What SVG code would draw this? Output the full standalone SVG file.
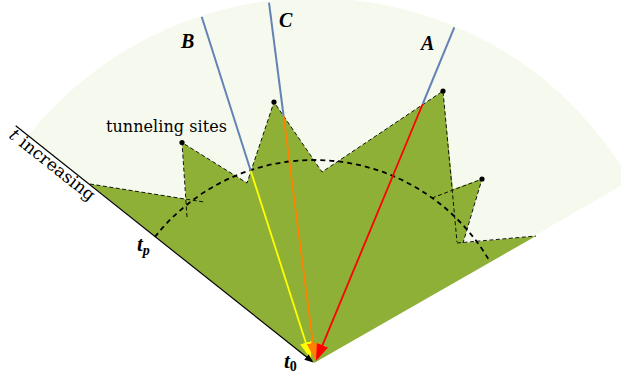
<svg xmlns="http://www.w3.org/2000/svg" width="621" height="375" viewBox="0 0 621 375">
<style>
.lbl{font-family:"Liberation Serif","Times New Roman",serif;fill:#000}
.txt{font-family:"DejaVu Serif","Liberation Serif",serif;fill:#000}
.bi{font-weight:bold;font-style:italic}
.dash{fill:none;stroke:#000;stroke-width:0.9;stroke-dasharray:4 2.5}
.blue{stroke:#6482b4;stroke-width:2;fill:none}
.dot{fill:#000}
</style>
<defs>
<marker id="hY" markerUnits="userSpaceOnUse" viewBox="0 0 17 12" markerWidth="17" markerHeight="12" refX="14" refY="6" orient="auto"><path d="M0,0 L17,6 L0,12 Z" fill="#ffff00"/></marker>
<marker id="hO" markerUnits="userSpaceOnUse" viewBox="0 0 17 12" markerWidth="17" markerHeight="12" refX="14" refY="6" orient="auto"><path d="M0,0 L17,6 L0,12 Z" fill="#ff8000"/></marker>
<marker id="hR" markerUnits="userSpaceOnUse" viewBox="0 0 17 12" markerWidth="17" markerHeight="12" refX="14" refY="6" orient="auto"><path d="M0,0 L17,6 L0,12 Z" fill="#ff0000"/></marker>
<marker id="hK" markerUnits="userSpaceOnUse" viewBox="0 0 9 7" markerWidth="9" markerHeight="7" refX="7" refY="3.5" orient="auto"><path d="M0,0 L9,3.5 L0,7 Z" fill="#000"/></marker>
</defs>
<g id="background">
<path d="M314,363 L27.9,136.3 A365,365 0 0 1 630.1,180.5 Z" fill="#f6f9ee"/>
</g>
<g id="region">
<path d="M314,363 L90,184 L186,199 L182,142.5 L247,183 L274,102 L322,172 L443,91 L453,189 L482,179 L463,243 L536,236 Z" fill="#8fb036"/>
</g>
<g id="outlines">
<path class="dash" d="M90,184 L204,202"/>
<path class="dash" d="M187,217 L182,142.5 L247,183 L274,102 L322,172 L443,91 L457,242"/>
<path class="dash" d="M432,198 L482,179 L463,243"/>
<path class="dash" d="M457,243 L536,236"/>
</g>
<g id="arc">
<path d="M154.9,236.9 A203,203 0 0 1 489.8,261.5" fill="none" stroke="#000" stroke-width="1.8" stroke-dasharray="5 4"/>
</g>
<g id="sites">
<circle class="dot" cx="182" cy="142.5" r="2.6"/>
<circle class="dot" cx="274" cy="102" r="2.6"/>
<circle class="dot" cx="443" cy="91" r="2.6"/>
<circle class="dot" cx="482" cy="179" r="2.6"/>
<text class="txt" x="106" y="132" font-size="16" textLength="121" lengthAdjust="spacing">tunneling sites</text>
</g>
<g id="connectors">
<line class="blue" x1="201.7" y1="16.7" x2="250.7" y2="170.7"/>
<line x1="250.7" y1="170.7" x2="310.1" y2="356.1" stroke="#ffff00" stroke-width="1.8" marker-end="url(#hY)"/>
<line class="blue" x1="269" y1="2.7" x2="283.6" y2="116"/>
<line x1="283.6" y1="116" x2="314.6" y2="357" stroke="#ff8000" stroke-width="1.8" marker-end="url(#hO)"/>
<line class="blue" x1="454.3" y1="27.3" x2="422.7" y2="104"/>
<line x1="422.7" y1="104" x2="317.1" y2="358.2" stroke="#ff0000" stroke-width="1.8" marker-end="url(#hR)"/>
<line x1="15.7" y1="125.7" x2="311.9" y2="361.3" stroke="#000" stroke-width="1.2" marker-end="url(#hK)"/>
</g>
<g id="ray-A"><text class="lbl bi" x="421" y="50" font-size="20">A</text></g>
<g id="ray-B"><text class="lbl bi" x="181" y="48" font-size="20">B</text></g>
<g id="ray-C"><text class="lbl bi" x="279" y="27" font-size="20">C</text></g>
<g id="axis">
<text class="txt" transform="translate(8.1,136.9) rotate(38.4)" font-size="17" textLength="104" lengthAdjust="spacing"><tspan font-style="italic">t</tspan> increasing</text>
<text class="lbl bi" x="137" y="251" font-size="21">t<tspan font-size="14" dy="4">p</tspan></text>
<text class="lbl bi" x="284" y="368" font-size="21">t<tspan font-size="14" font-style="normal" dy="3">0</tspan></text>
</g>
</svg>
